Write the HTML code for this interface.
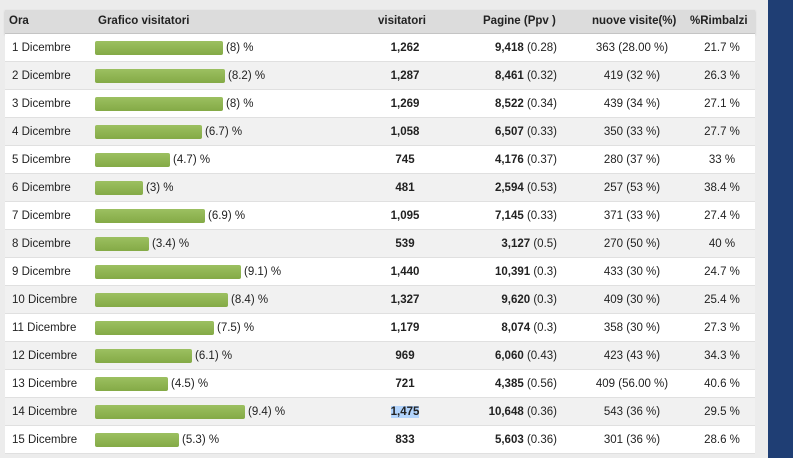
<!DOCTYPE html>
<html><head><style>
body{margin:0;width:793px;height:458px;background:#ececec;font-family:"Liberation Sans",sans-serif;font-size:11.5px;color:#222;overflow:hidden;position:relative}
.blue{position:absolute;left:768px;top:0;width:25px;height:458px;background:#1f3e74}
.t{position:absolute;left:5px;top:10px;width:750px}
.h{height:23px;background:#dcdcdc;border-bottom:1px solid #c4c4c4;box-shadow:0 1px 2px #bbb;font-weight:bold;position:relative}
.r{height:27px;border-bottom:1px solid #e0e0e0;background:#fff;position:relative}
.r.g{background:#f1f1f1}
.c{position:absolute;top:1px;line-height:27px;white-space:nowrap}
.h .c{line-height:23px;top:0}
.bar{position:absolute;left:90px;top:7px;height:14px;background:linear-gradient(#9cc061,#84aa46);border-radius:2px}
b{font-weight:bold}
.sel{background:#b3d4fc}
</style></head><body>
<div class="blue"></div>
<div class="t">
<div class="h">
<span class="c" style="left:4px">Ora</span>
<span class="c" style="left:93px">Grafico visitatori</span>
<span class="c" style="left:373px">visitatori</span>
<span class="c" style="left:478px">Pagine (Ppv )</span>
<span class="c" style="left:587px">nuove visite(%)</span>
<span class="c" style="left:685px">%Rimbalzi</span>
</div>
<div id="rows"></div>
</div>
<script>
var d=[["1 Dicembre",128,"8","1,262","9,418","0.28","363 (28.00 %)","21.7 %"],
["2 Dicembre",130,"8.2","1,287","8,461","0.32","419 (32 %)","26.3 %"],
["3 Dicembre",128,"8","1,269","8,522","0.34","439 (34 %)","27.1 %"],
["4 Dicembre",107,"6.7","1,058","6,507","0.33","350 (33 %)","27.7 %"],
["5 Dicembre",75,"4.7","745","4,176","0.37","280 (37 %)","33 %"],
["6 Dicembre",48,"3","481","2,594","0.53","257 (53 %)","38.4 %"],
["7 Dicembre",110,"6.9","1,095","7,145","0.33","371 (33 %)","27.4 %"],
["8 Dicembre",54,"3.4","539","3,127","0.5","270 (50 %)","40 %"],
["9 Dicembre",146,"9.1","1,440","10,391","0.3","433 (30 %)","24.7 %"],
["10 Dicembre",133,"8.4","1,327","9,620","0.3","409 (30 %)","25.4 %"],
["11 Dicembre",119,"7.5","1,179","8,074","0.3","358 (30 %)","27.3 %"],
["12 Dicembre",97,"6.1","969","6,060","0.43","423 (43 %)","34.3 %"],
["13 Dicembre",73,"4.5","721","4,385","0.56","409 (56.00 %)","40.6 %"],
["14 Dicembre",150,"9.4","1,475","10,648","0.36","543 (36 %)","29.5 %"],
["15 Dicembre",84,"5.3","833","5,603","0.36","301 (36 %)","28.6 %"]];
var h="";
d.forEach(function(r,i){
var v=i==13?'<b class="sel">'+r[3]+'</b>':'<b>'+r[3]+'</b>';
h+='<div class="r'+(i%2?' g':'')+'">'+
'<span class="c" style="left:7px">'+r[0]+'</span>'+
'<div class="bar" style="width:'+r[1]+'px"></div>'+
'<span class="c" style="left:'+(93+r[1])+'px">('+r[2]+') %</span>'+
'<span class="c" style="left:350px;width:100px;text-align:center">'+v+'</span>'+
'<span class="c" style="left:420px;width:132px;text-align:right"><b>'+r[4]+'</b> ('+r[5]+')</span>'+
'<span class="c" style="left:567px;width:120px;text-align:center">'+r[6]+'</span>'+
'<span class="c" style="left:677px;width:80px;text-align:center">'+r[7]+'</span>'+
'</div>';});
document.getElementById("rows").innerHTML=h;
</script>
</body></html>
